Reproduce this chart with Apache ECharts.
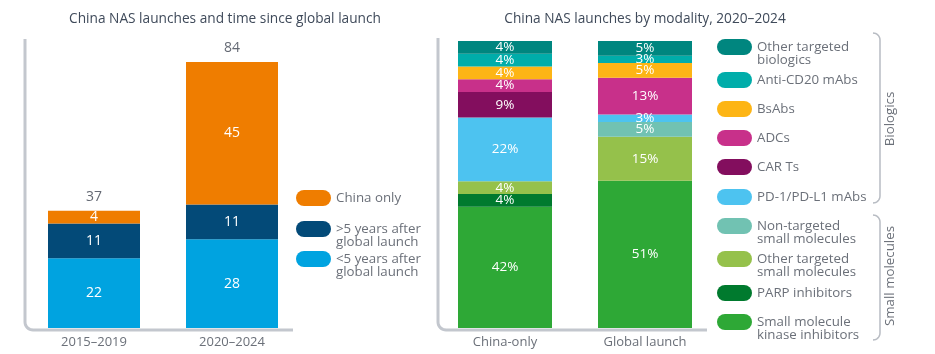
<!DOCTYPE html>
<html>
<head>
<meta charset="utf-8">
<script src="https://cdn.jsdelivr.net/npm/echarts@6/dist/echarts.min.js"></script>
<style>
  html, body { margin: 0; padding: 0; background: #fff; }
  #chart { width: 935px; height: 354px; }
</style>
</head>
<body>
<div id="chart"></div>
<script>
// left panel: launches by time since global launch
const leftCats = ['2015–2019', '2020–2024'];
const under5 = [22, 28];
const over5 = [11, 11];
const chinaOnly = [4, 45];
const totals = [37, 84];
const leftNames = ['China only', '>5 years after\nglobal launch', '<5 years after\nglobal launch'];
const leftColors = ['#EF7D00', '#034A78', '#00A3E0'];

// right panel: launch counts by modality (China-only, Global launch), bottom to top
const rightCats = ['China-only', 'Global launch'];
const kinase = [19, 20];
const parp = [2, 0];
const otherSmall = [2, 6];
const nonTargeted = [0, 2];
const pd1 = [10, 1];
const carT = [4, 0];
const adc = [2, 5];
const bsAbs = [2, 2];
const antiCd20 = [2, 1];
const otherBio = [2, 2];
const modalityData = [kinase, parp, otherSmall, nonTargeted, pd1, carT, adc, bsAbs, antiCd20, otherBio];
const modalityNames = ['Small molecule\nkinase inhibitors', 'PARP inhibitors', 'Other targeted\nsmall molecules',
  'Non-targeted\nsmall molecules', 'PD-1/PD-L1 mAbs', 'CAR Ts', 'ADCs', 'BsAbs', 'Anti-CD20 mAbs', 'Other targeted\nbiologics'];
const modalityColors = ['#2EA836', '#007A2E', '#95C14B', '#71C2B2', '#4DC3F0', '#830E5E', '#C8308A', '#FDB515', '#00ADAA', '#00867F'];

const FONT = '"Open Sans", "Noto Sans", sans-serif';
const GREY = '#6b7079';

const colTotals = rightCats.map((c, i) => modalityData.reduce((s, arr) => s + arr[i], 0));
const toPct = (arr) => arr.map((v, i) => v / colTotals[i] * 100);

const segLabel = {
  show: true, color: '#fff', fontSize: 13.5, fontFamily: FONT,
  formatter: (p) => p.value > 0 ? Math.round(p.value) + '%' : ''
};

const leftSeries = [
  [under5, 2], [over5, 1], [chinaOnly, 0]
].map(([data, idx]) => ({
  type: 'bar', name: leftNames[idx], stack: 'left', xAxisIndex: 0, yAxisIndex: 0,
  data, barWidth: 92, itemStyle: { color: leftColors[idx] },
  label: { show: true, color: '#fff', fontSize: 14, fontFamily: FONT }
}));

// totals above the left bars
leftSeries.push({
  type: 'scatter', xAxisIndex: 0, yAxisIndex: 0, data: totals,
  symbolSize: 1, itemStyle: { color: 'rgba(0,0,0,0)' }, silent: true,
  label: { show: true, position: 'top', distance: 6, color: '#3d4450', fontSize: 14, fontFamily: FONT }
});

const rightSeries = modalityData.map((arr, i) => ({
  type: 'bar', name: modalityNames[i], stack: 'right', xAxisIndex: 1, yAxisIndex: 1,
  data: toPct(arr), barWidth: 94, itemStyle: { color: modalityColors[i] }, label: segLabel
}));

// legends, brackets and axis frames
const graphic = [];
const legendItem = (x, y, color, text) => {
  graphic.push({ type: 'rect', shape: { x: x, y: y - 8, width: 35, height: 16, r: 8 }, style: { fill: color } });
  graphic.push({ type: 'text', x: x + 40, y: y - 6, style: { text, fill: GREY, font: '13.3px ' + FONT, lineHeight: 13, textVerticalAlign: 'top' } });
};
legendItem(296, 198, leftColors[0], leftNames[0]);
legendItem(296, 229, leftColors[1], leftNames[1]);
legendItem(296, 259, leftColors[2], leftNames[2]);

const rightLegendY = [322, 293, 259, 226, 197, 167, 138, 109, 80, 47];
modalityNames.forEach((n, i) => legendItem(717, rightLegendY[i], modalityColors[i], n));

// points along a quarter arc
const arcPts = (cx, cy, r, a0, a1) => {
  const pts = [];
  for (let k = 0; k <= 8; k++) {
    const a = (a0 + (a1 - a0) * k / 8) * Math.PI / 180;
    pts.push([cx + r * Math.cos(a), cy + r * Math.sin(a)]);
  }
  return pts;
};
const frame = (x, yTop, yBot, xEnd) =>
  [[x, yTop]].concat(arcPts(x + 8, yBot - 8, 8, 180, 90), [[xEnd, yBot]]);
const frameStyle = { stroke: '#c3c7ce', lineWidth: 3, fill: null };
graphic.push({ type: 'polyline', shape: { points: frame(25, 39, 330, 293) }, style: frameStyle });
graphic.push({ type: 'polyline', shape: { points: frame(438, 38, 330, 707) }, style: frameStyle });

const bracket = (x, y0, y1) =>
  arcPts(x - 7, y0 + 7, 7, -90, 0).concat(arcPts(x - 7, y1 - 7, 7, 0, 90));
const bracketStyle = { stroke: '#b8bcc3', lineWidth: 1.5, fill: null };
graphic.push({ type: 'polyline', shape: { points: bracket(880, 33, 203) }, style: bracketStyle });
graphic.push({ type: 'polyline', shape: { points: bracket(880, 215, 340) }, style: bracketStyle });
graphic.push({ type: 'text', x: 890, y: 119, rotation: Math.PI / 2, style: { text: 'Biologics', fill: GREY, font: '13.3px ' + FONT, textAlign: 'center', textVerticalAlign: 'middle' } });
graphic.push({ type: 'text', x: 890, y: 276, rotation: Math.PI / 2, style: { text: 'Small molecules', fill: GREY, font: '13.3px ' + FONT, textAlign: 'center', textVerticalAlign: 'middle' } });

const catAxis = (gridIndex, data) => ({
  type: 'category', gridIndex, data,
  axisLine: { show: false }, axisTick: { show: false },
  axisLabel: { color: GREY, fontSize: 13, fontFamily: FONT, margin: 8 }
});
const valAxis = (gridIndex, max) => ({
  type: 'value', gridIndex, min: 0, max,
  axisLine: { show: false }, axisTick: { show: false }, axisLabel: { show: false }, splitLine: { show: false }
});

const chart = echarts.init(document.getElementById('chart'));
chart.setOption({
  animation: false,
  textStyle: { fontFamily: FONT },
  title: [
    { text: 'China NAS launches and time since global launch', left: 225, top: 12, textAlign: 'center', padding: 0,
      textStyle: { color: '#3f4a5a', fontSize: 13.7, fontWeight: 500, fontFamily: FONT } },
    { text: 'China NAS launches by modality, 2020–2024', left: 645, top: 12, textAlign: 'center', padding: 0,
      textStyle: { color: '#3f4a5a', fontSize: 13.7, fontWeight: 500, fontFamily: FONT } }
  ],
  grid: [
    { left: 25, top: 62, width: 276, bottom: 26 },
    { left: 435, top: 41, width: 280, bottom: 26 }
  ],
  xAxis: [catAxis(0, leftCats), catAxis(1, rightCats)],
  yAxis: [valAxis(0, 84), valAxis(1, 100)],
  series: leftSeries.concat(rightSeries),
  graphic
});
</script>
</body>
</html>
